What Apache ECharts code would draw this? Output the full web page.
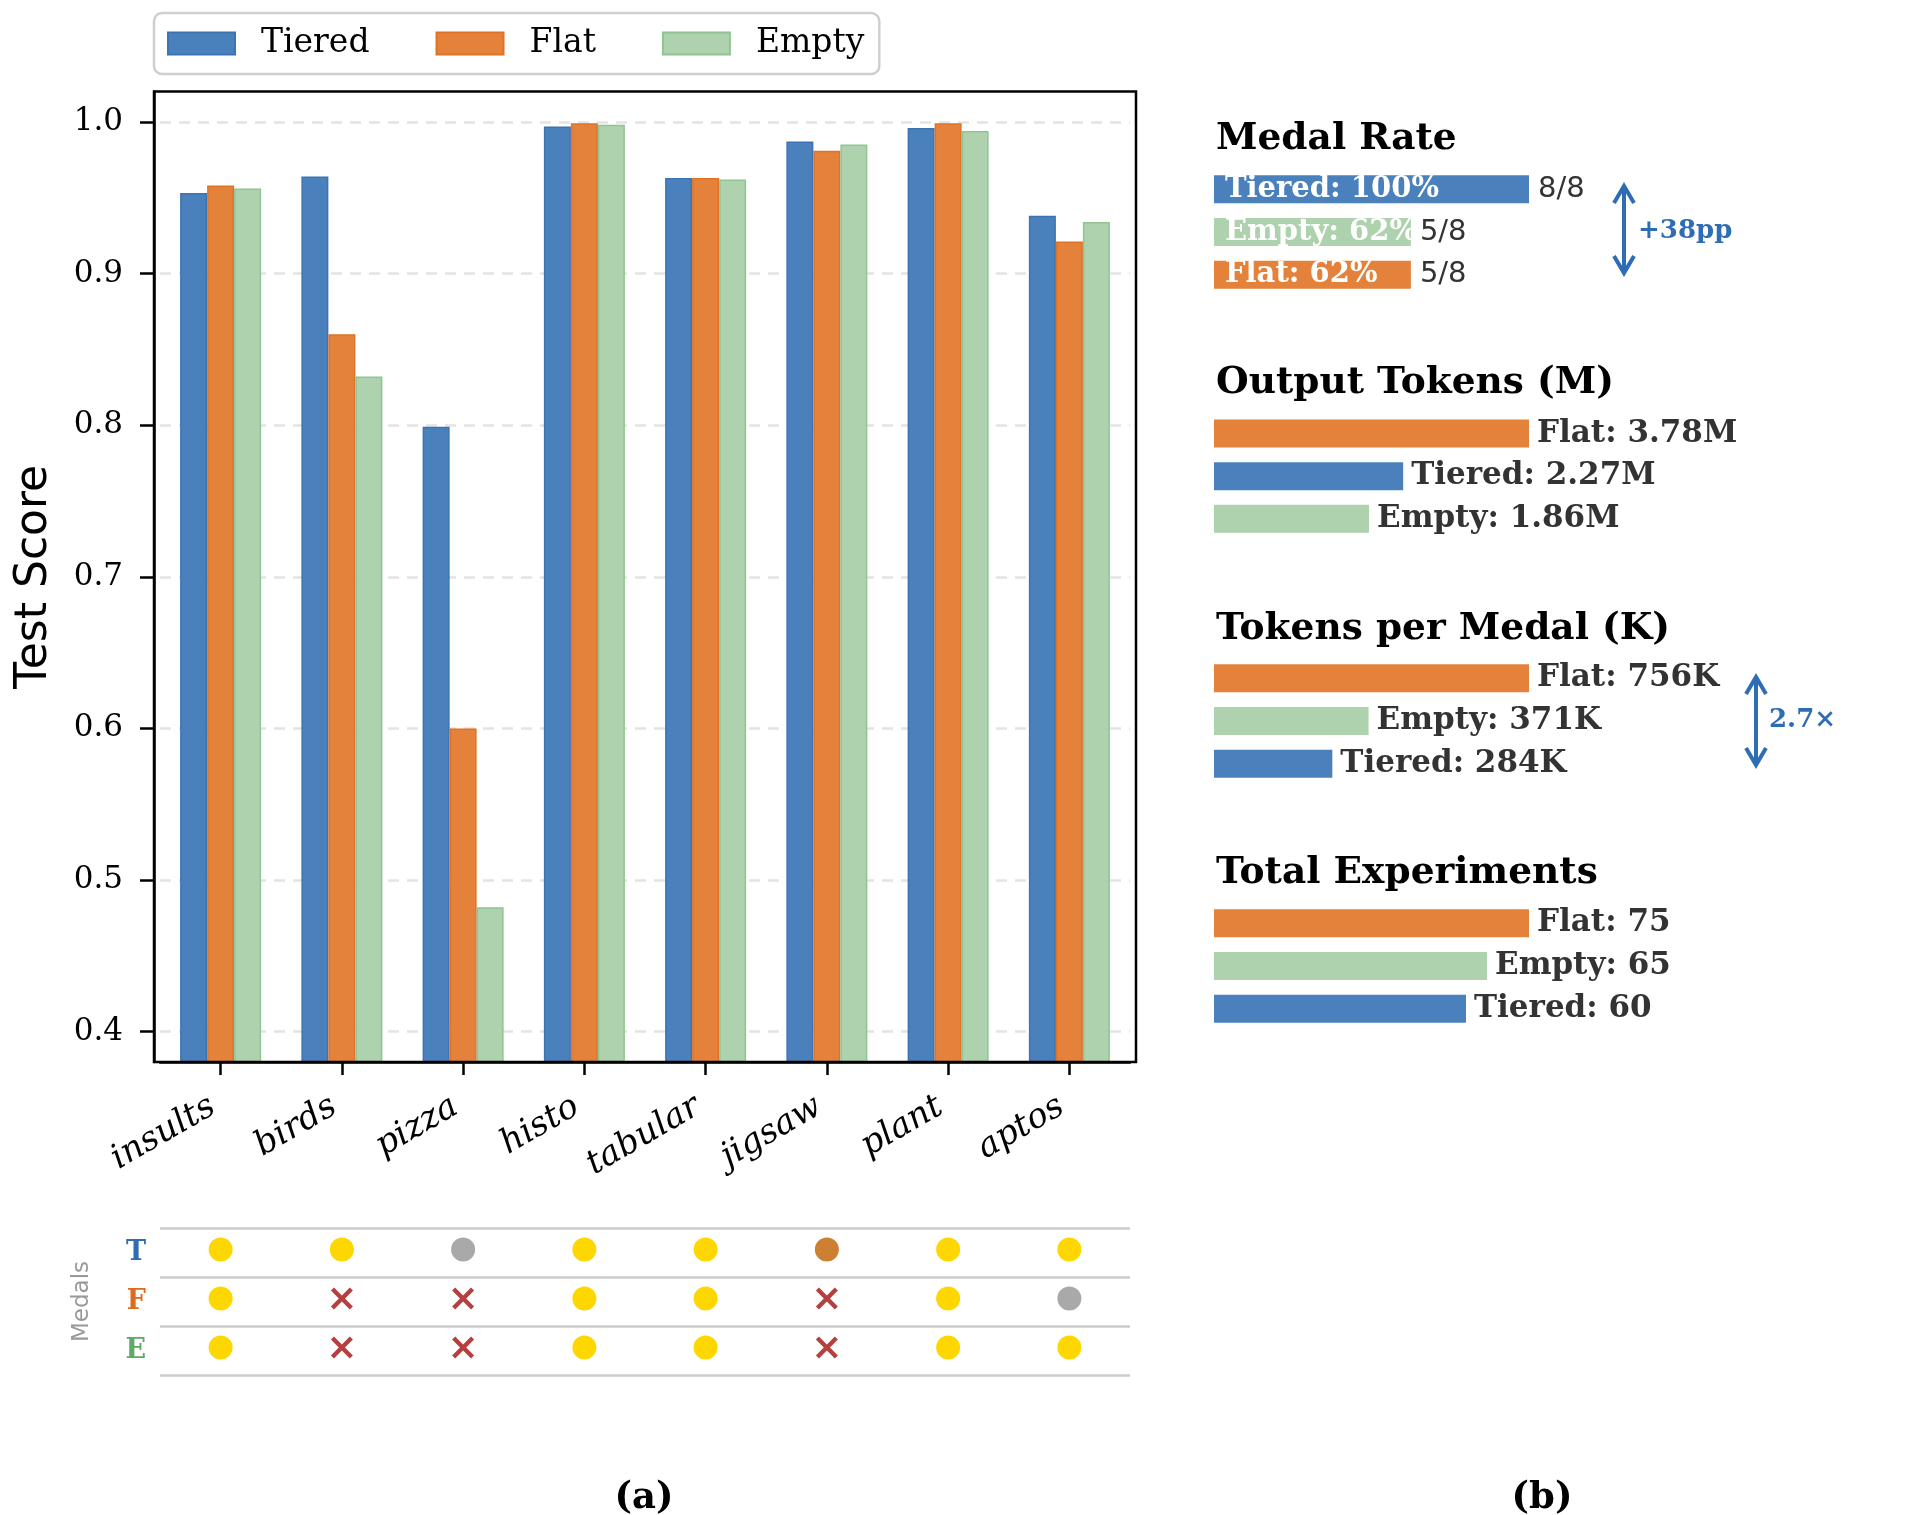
<!DOCTYPE html>
<html>
<head>
<meta charset="utf-8">
<script src="https://cdn.jsdelivr.net/npm/echarts@6/dist/echarts.min.js"></script>
<style>
  html, body { margin: 0; padding: 0; background: #fff; }
  #chart { width: 1913px; height: 1515px; }
</style>
</head>
<body>
<div id="chart"></div>
<script>
// (a) test scores per task
const tasks = ['insults', 'birds', 'pizza', 'histo', 'tabular', 'jigsaw', 'plant', 'aptos'];
const tieredScore = [0.953, 0.964, 0.799, 0.997, 0.963, 0.987, 0.996, 0.938];
const flatScore   = [0.958, 0.860, 0.600, 0.999, 0.963, 0.981, 0.999, 0.921];
const emptyScore  = [0.956, 0.832, 0.482, 0.998, 0.962, 0.985, 0.994, 0.934];
const yTicks = [0.4, 0.5, 0.6, 0.7, 0.8, 0.9, 1.0];

// medal table under the bars
const medalRows = ['T', 'F', 'E'];
const medalsTiered = ['gold', 'gold', 'silver', 'gold', 'gold', 'bronze', 'gold', 'gold'];
const medalsFlat   = ['gold', 'none', 'none', 'gold', 'gold', 'none', 'gold', 'silver'];
const medalsEmpty  = ['gold', 'none', 'none', 'gold', 'gold', 'none', 'gold', 'gold'];

// (b) summary panels
const rateNames = ['Tiered', 'Empty', 'Flat'];
const rateWins = [8, 5, 5];
const rateTotal = 8;

const tokenNames = ['Flat', 'Tiered', 'Empty'];
const tokenM = [3.78, 2.27, 1.86];

const perMedalNames = ['Flat', 'Empty', 'Tiered'];
const perMedalK = [756, 371, 284];

const expNames = ['Flat', 'Empty', 'Tiered'];
const expCount = [75, 65, 60];

const SERIF = '"DejaVu Serif", serif';
const SANS = '"DejaVu Sans", sans-serif';
const fill = { Tiered: '#4A80BC', Flat: '#E4823C', Empty: '#ADD2AD' };
const edge = { Tiered: '#3C73B3', Flat: '#E07226', Empty: '#90C493' };
const medalColor = { gold: '#FFD700', silver: '#A9A9A9', bronze: '#CD7F32' };
const rowColor = { T: '#2E6DB4', F: '#E06A1B', E: '#5FA866' };
const arrowBlue = '#2E6DB4';
const crossPath = 'path://M0,1.4 L1.4,0 L5,3.6 L8.6,0 L10,1.4 L6.4,5 L10,8.6 L8.6,10 L5,6.4 L1.4,10 L0,8.6 L3.6,5 Z';

var myChart = echarts.init(document.getElementById('chart'));

const grids = [
    { left: 160, top: 91.5, width: 970, height: 970.5 },
    { left: 160, top: 1228, width: 970, height: 147 }
];
const xAxes = [
    {
        type: 'category', gridIndex: 0, data: tasks,
        axisLine: { show: true, lineStyle: { color: '#000', width: 2.5 } },
        axisTick: { show: true, alignWithLabel: true, length: 13, lineStyle: { color: '#000', width: 2.5 } },
        axisLabel: {
            interval: 0, rotate: 30, margin: 38, padding: [0, 9, 0, 0],
            color: '#000', fontFamily: SERIF, fontStyle: 'italic', fontSize: 34
        }
    },
    { type: 'category', gridIndex: 1, data: tasks, show: false }
];
const yAxes = [
    {
        type: 'value', gridIndex: 0, min: 0.38, max: 1.02, offset: 6,
        name: 'Test Score', nameLocation: 'middle', nameGap: 97,
        nameTextStyle: { fontFamily: SANS, fontSize: 44, color: '#000' },
        axisLine: { show: true, lineStyle: { color: '#000', width: 2.5 } },
        axisTick: { show: true, length: 14, customValues: yTicks, lineStyle: { color: '#000', width: 2.5 } },
        axisLabel: { customValues: yTicks, formatter: v => v.toFixed(1), margin: 31, color: '#000', fontFamily: SERIF, fontSize: 31 },
        splitLine: { show: true, lineStyle: { color: '#e3e3e3', width: 2.5, type: [11, 8] } }
    },
    {
        type: 'category', gridIndex: 1, data: medalRows, inverse: true,
        name: 'Medals', nameLocation: 'middle', nameGap: 66,
        nameTextStyle: { fontFamily: SANS, fontSize: 23, color: '#999' },
        axisLine: { show: false }, axisTick: { show: false },
        splitLine: { show: true, interval: 0, lineStyle: { color: '#cccccc', width: 2.5 } },
        axisLabel: {
            margin: 14,
            formatter: v => '{' + v + '|' + v + '}',
            rich: {
                T: { color: rowColor.T, fontFamily: SERIF, fontWeight: 'bold', fontSize: 27 },
                F: { color: rowColor.F, fontFamily: SERIF, fontWeight: 'bold', fontSize: 27 },
                E: { color: rowColor.E, fontFamily: SERIF, fontWeight: 'bold', fontSize: 27 }
            }
        }
    }
];

function scoreSeries(name, values) {
    return {
        name: name, type: 'bar', xAxisIndex: 0, yAxisIndex: 0,
        data: values, barWidth: 27, barGap: '0%',
        itemStyle: { color: fill[name], borderColor: edge[name], borderWidth: 1.5 }
    };
}
const series = [
    scoreSeries('Tiered', tieredScore),
    scoreSeries('Flat', flatScore),
    scoreSeries('Empty', emptyScore)
];

// medal dots and crosses
const dotData = [];
const crossData = [];
[medalsTiered, medalsFlat, medalsEmpty].forEach((row, r) => {
    row.forEach((m, i) => {
        if (m === 'none') crossData.push([tasks[i], medalRows[r]]);
        else dotData.push({ value: [tasks[i], medalRows[r]], itemStyle: { color: medalColor[m] } });
    });
});
series.push({
    name: 'medal', type: 'scatter', xAxisIndex: 1, yAxisIndex: 1,
    symbol: 'circle', symbolSize: 24, symbolOffset: [0, -3],
    itemStyle: { opacity: 1 }, data: dotData
});
series.push({
    name: 'nomedal', type: 'scatter', xAxisIndex: 1, yAxisIndex: 1,
    symbol: crossPath, symbolSize: 22, symbolOffset: [0, -3],
    itemStyle: { color: '#B5403F', opacity: 1 }, data: crossData
});

// right-hand panels, one small grid each
function addPanel(top, names, values, key, labelFn) {
    const gi = grids.length;
    grids.push({ left: 1214, top: top, width: 315, height: 128 });
    xAxes.push({ type: 'value', gridIndex: gi, min: 0, max: Math.max(...values), show: false });
    yAxes.push({ type: 'category', gridIndex: gi, data: names, inverse: true, show: false });
    const s = {
        name: key, type: 'bar', xAxisIndex: gi, yAxisIndex: gi, barWidth: 28, barGap: '-100%',
        data: values.map((v, i) => ({ value: v, itemStyle: { color: fill[names[i]] } })),
        label: {
            show: true, position: 'right', distance: 8, formatter: labelFn,
            color: '#333', fontFamily: SERIF, fontWeight: 'bold', fontSize: 31
        }
    };
    series.push(s);
    return { gi: gi, s: s };
}

const ratePct = rateWins.map(w => w / rateTotal * 100);
const rate = addPanel(168, rateNames, ratePct, 'rate', p => p.name + ': ' + Math.floor(p.value) + '%');
rate.s.label = {
    show: true, position: 'insideLeft', distance: 11, formatter: rate.s.label.formatter,
    color: '#fff', fontFamily: SERIF, fontWeight: 'bold', fontSize: 29
};
series.push({
    name: 'rateCount', type: 'bar', xAxisIndex: rate.gi, yAxisIndex: rate.gi, barWidth: 28, barGap: '-100%',
    data: ratePct, itemStyle: { color: 'rgba(0,0,0,0)' },
    label: {
        show: true, position: 'right', distance: 9,
        formatter: p => rateWins[p.dataIndex] + '/' + rateTotal,
        color: '#333', fontFamily: SANS, fontSize: 29
    }
});
addPanel(412.2, tokenNames, tokenM, 'tokens', p => p.name + ': ' + p.value.toFixed(2) + 'M');
addPanel(657, perMedalNames, perMedalK, 'perMedal', p => p.name + ': ' + p.value + 'K');
addPanel(902, expNames, expCount, 'experiments', p => p.name + ': ' + p.value);

function title(text, y) {
    return { type: 'text', style: { x: 1216, y: y, text: text, font: 'bold 37.5px ' + SERIF, fill: '#000', verticalAlign: 'middle' } };
}
function doubleArrow(x, y1, y2) {
    const ls = { stroke: arrowBlue, lineWidth: 4, fill: null };
    return [
        { type: 'line', shape: { x1: x, y1: y1 + 2, x2: x, y2: y2 - 2 }, style: ls },
        { type: 'polyline', shape: { points: [[x - 10, y1 + 17], [x, y1], [x + 10, y1 + 17]] }, style: ls },
        { type: 'polyline', shape: { points: [[x - 10, y2 - 17], [x, y2], [x + 10, y2 - 17]] }, style: ls }
    ];
}

const option = {
    animation: false,
    backgroundColor: '#fff',
    legend: {
        data: ['Tiered', 'Flat', 'Empty'],
        left: 154, top: 13, icon: 'rect',
        itemWidth: 67, itemHeight: 22, itemGap: 66,
        padding: [14, 15, 14, 13],
        borderColor: '#cfcfcf', borderWidth: 2.5, borderRadius: 8,
        textStyle: { fontFamily: SERIF, fontSize: 33, color: '#000', padding: [0, 0, 0, 21] }
    },
    grid: grids,
    xAxis: xAxes,
    yAxis: yAxes,
    series: series,
    graphic: [
        { type: 'rect', z: 100, shape: { x: 154, y: 91.5, width: 982, height: 970.5 }, style: { stroke: '#000', lineWidth: 2.5, fill: null } },
        title('Medal Rate', 139),
        title('Output Tokens (M)', 383),
        title('Tokens per Medal (K)', 629),
        title('Total Experiments', 873),
        ...doubleArrow(1624, 186, 273),
        { type: 'text', style: { x: 1638, y: 231, text: '+38pp', font: 'bold 26px ' + SERIF, fill: arrowBlue, verticalAlign: 'middle' } },
        ...doubleArrow(1756, 677, 765),
        { type: 'text', style: { x: 1769, y: 720, text: '2.7×', font: 'bold 26px ' + SERIF, fill: arrowBlue, verticalAlign: 'middle' } },
        { type: 'text', style: { x: 644, y: 1498, text: '(a)', font: 'bold 37px ' + SERIF, fill: '#000', align: 'center', verticalAlign: 'middle' } },
        { type: 'text', style: { x: 1542, y: 1498, text: '(b)', font: 'bold 37px ' + SERIF, fill: '#000', align: 'center', verticalAlign: 'middle' } }
    ]
};

myChart.setOption(option);
</script>
</body>
</html>
